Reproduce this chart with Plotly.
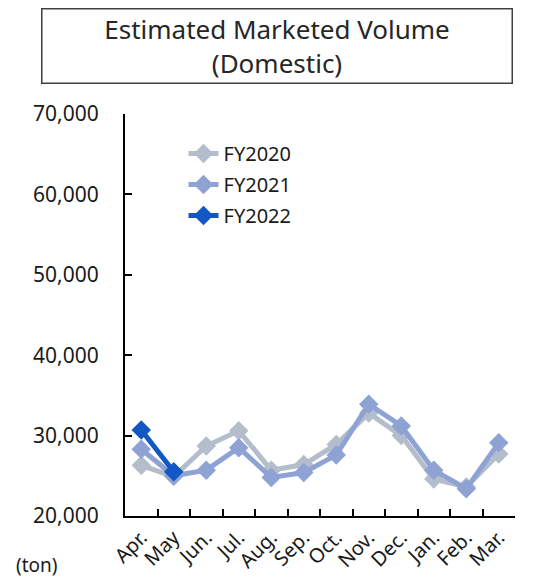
import plotly.graph_objects as go

months = ["Apr.", "May", "Jun.", "Jul.", "Aug.", "Sep.", "Oct.", "Nov.", "Dec.", "Jan.", "Feb.", "Mar."]

fy2020 = [26300, 24900, 28700, 30600, 25700, 26400, 28900, 32800, 30000, 24600, 23600, 27700]
fy2021 = [28300, 25000, 25700, 28500, 24800, 25400, 27600, 33900, 31200, 25700, 23400, 29100]
fy2022 = [30700, 25500]

y_ticks = [20000, 30000, 40000, 50000, 60000, 70000]

series = [
    ("FY2020", fy2020, "#b4bdcc"),
    ("FY2021", fy2021, "#8fa2d4"),
    ("FY2022", fy2022, "#1257c4"),
]

FONT = "Noto Sans, Open Sans, sans-serif"

fig = go.Figure()
for name, vals, color in series:
    fig.add_trace(go.Scatter(
        x=months[:len(vals)],
        y=vals,
        mode="lines+markers",
        name=name,
        legendgroup=name,
        line=dict(color=color, width=5),
        marker=dict(symbol="diamond", size=15, color=color),
    ))

# page body has an 8px margin, so the figure is drawn 8px smaller and offset
fig.update_layout(
    width=531,
    height=575,
    margin=dict(l=117, r=24, t=106, b=67, autoexpand=False),
    paper_bgcolor="white",
    plot_bgcolor="white",
    font=dict(family=FONT, size=18, color="#1a1a1a"),
    showlegend=True,
    legend=dict(
        x=0.15, y=0.95, xanchor="left", yanchor="top",
        bgcolor="rgba(0,0,0,0)",
        font=dict(size=20),
        tracegroupgap=2,
    ),
    annotations=[
        dict(
            text="Estimated Marketed Volume<br>(Domestic)",
            xref="paper", yref="paper", x=0.391, y=1.17,
            xanchor="center", yanchor="middle",
            showarrow=False, width=467, height=71,
            bordercolor="#404040", borderwidth=1.5,
            font=dict(size=26, color="#262626"),
        ),
        dict(
            text="(ton)",
            xref="paper", yref="paper", x=-0.225, y=-0.122,
            xanchor="center", yanchor="middle",
            showarrow=False, font=dict(size=19),
        ),
    ],
)

fig.update_xaxes(
    type="category",
    categoryorder="array",
    categoryarray=months,
    range=[-0.5, 11.5],
    automargin=False,
    showline=True, linecolor="black", linewidth=2,
    ticks="inside", tickson="boundaries", ticklen=7, tickcolor="black", tickwidth=2,
    tickangle=-45,
    tickfont=dict(size=20),
    showgrid=False, zeroline=False,
)

fig.update_yaxes(
    range=[20000, 70000],
    tickvals=y_ticks,
    tickformat=",d",
    automargin=False,
    showline=True, linecolor="black", linewidth=2,
    ticks="inside", ticklen=7, tickcolor="black", tickwidth=2,
    ticklabelstandoff=20,
    showgrid=False, zeroline=False,
    tickfont=dict(size=21),
)

fig.write_html("out.html")
